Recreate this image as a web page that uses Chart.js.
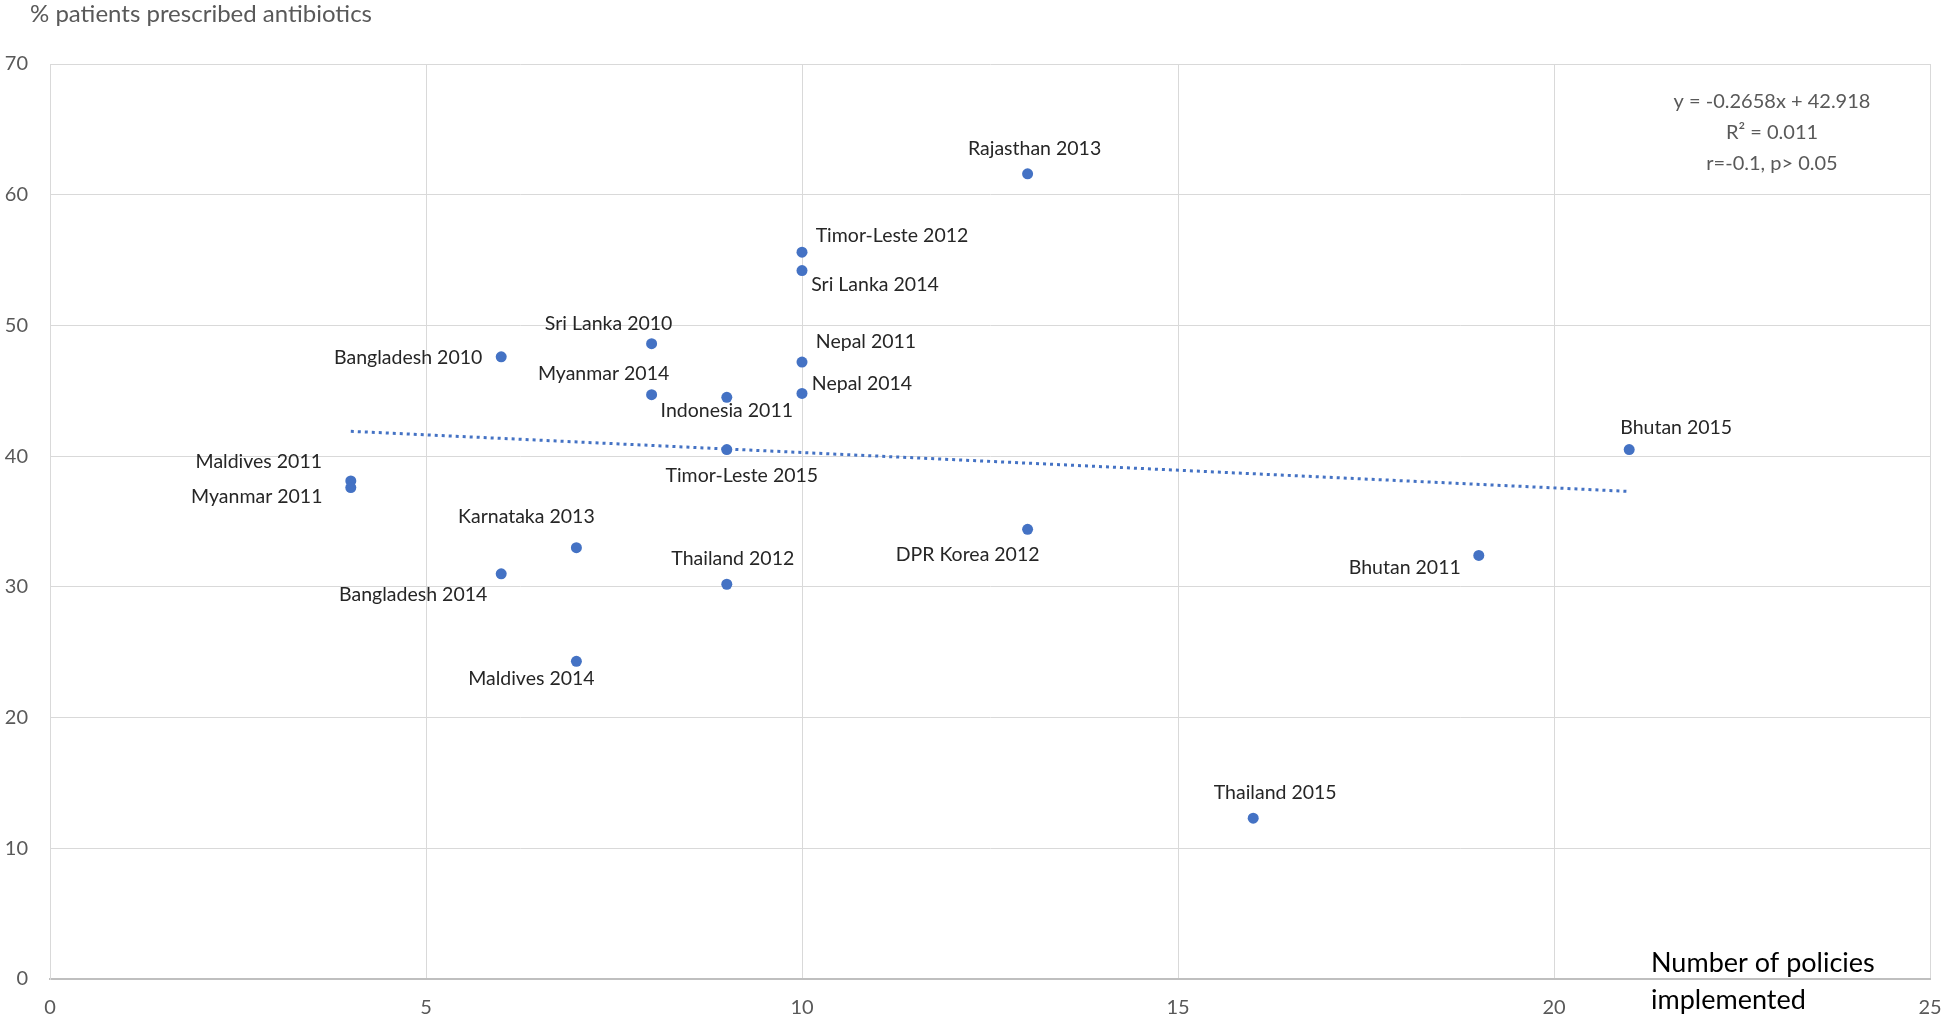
<!DOCTYPE html>
<html>
<head>
<meta charset="utf-8">
<script src="https://cdn.jsdelivr.net/npm/chart.js@4.4.1/dist/chart.umd.min.js"></script>
<style>
  html, body { margin: 0; padding: 0; background: #fff; }
  #wrap { width: 1946px; height: 1021px; }
</style>
</head>
<body>
<div id="wrap"><canvas id="scatterChart" width="1946" height="1021"></canvas></div>
<script>
// data
var sites = ["Rajasthan 2013","Timor-Leste 2012","Sri Lanka 2014","Sri Lanka 2010","Bangladesh 2010",
  "Nepal 2011","Myanmar 2014","Indonesia 2011","Nepal 2014","Timor-Leste 2015","Bhutan 2015",
  "Maldives 2011","Myanmar 2011","DPR Korea 2012","Karnataka 2013","Bhutan 2011","Bangladesh 2014",
  "Thailand 2012","Maldives 2014","Thailand 2015"];
var policies = [13,10,10,8,6,10,8,9,10,9,21,4,4,13,7,19,6,9,7,16];
var pctAntibiotics = [61.6,55.6,54.2,48.6,47.6,47.2,44.7,44.5,44.8,40.5,40.5,38.1,37.6,34.4,33.0,32.4,31.0,30.2,24.3,12.3];
var trendX = [4, 21];
var trendY = [41.9, 37.3];
var xTicks = [0,5,10,15,20,25];
var yTicks = [0,10,20,30,40,50,60,70];
var equationLines = ["y = -0.2658x + 42.918", "R\u00b2 = 0.011", "r=-0.1, p> 0.05"];

// where each label sits relative to its dot (px, label centre)
var labelOffset = {
  "Rajasthan 2013":[7,-25], "Timor-Leste 2012":[90,-17], "Sri Lanka 2014":[73,14],
  "Sri Lanka 2010":[-43,-20], "Bangladesh 2010":[-93,1], "Nepal 2011":[64,-20],
  "Myanmar 2014":[-48,-21], "Indonesia 2011":[0,13], "Nepal 2014":[60,-10],
  "Timor-Leste 2015":[15,26], "Bhutan 2015":[47,-22], "Maldives 2011":[-92,-19],
  "Myanmar 2011":[-94,9], "DPR Korea 2012":[-60,25], "Karnataka 2013":[-50,-31],
  "Bhutan 2011":[-74,12], "Bangladesh 2014":[-88,21], "Thailand 2012":[6,-26],
  "Maldives 2014":[-45,17], "Thailand 2015":[22,-26]
};

var FONT = "Lato, 'Open Sans', sans-serif";
var BLUE = "#4472C4";

var points = policies.map(function(x, i){ return {x: x, y: pctAntibiotics[i]}; });
var trend = trendX.map(function(x, i){ return {x: x, y: trendY[i]}; });

// text drawn on top: point labels, axis titles, equation
const textPlugin = {
  id: "textPlugin",
  afterDatasetsDraw(chart) {
    const ctx = chart.ctx;
    const xs = chart.scales.x, ys = chart.scales.y;
    ctx.save();
    ctx.font = "19.5px " + FONT;
    ctx.fillStyle = "#262626";
    ctx.textAlign = "center";
    ctx.textBaseline = "middle";
    points.forEach(function(p, i){
      var off = labelOffset[sites[i]] || [0, -20];
      ctx.fillText(sites[i], xs.getPixelForValue(p.x) + off[0], ys.getPixelForValue(p.y) + off[1]);
    });

    // regression text
    ctx.font = "20px " + FONT;
    ctx.fillStyle = "#595959";
    equationLines.forEach(function(t, i){
      ctx.fillText(t, 1772, 102 + i * 31);
    });

    // y axis title
    ctx.textAlign = "left";
    ctx.font = "24px " + FONT;
    ctx.fillText("% patients prescribed antibiotics", 30, 14);

    // x axis title
    ctx.font = "27px " + FONT;
    ctx.fillStyle = "#000000";
    ctx.fillText("Number of policies", 1651, 963);
    ctx.fillText("implemented", 1651, 1000);
    ctx.restore();
  }
};

const CHART = document.getElementById("scatterChart");
let scatterChart = new Chart(CHART, {
  type: "scatter",
  data: {
    datasets: [
      {
        label: "sites",
        data: points,
        pointRadius: 5.5,
        pointHoverRadius: 5.5,
        backgroundColor: BLUE,
        borderWidth: 0,
        order: 1
      },
      {
        label: "trend",
        type: "line",
        data: trend,
        borderColor: BLUE,
        borderWidth: 3,
        borderDash: [3, 4],
        pointRadius: 0,
        fill: false,
        order: 2
      }
    ]
  },
  options: {
    responsive: false,
    animation: false,
    layout: { padding: { top: 64, right: 16, left: 0, bottom: 0 } },
    plugins: { legend: { display: false }, tooltip: { enabled: false } },
    scales: {
      x: {
        type: "linear",
        min: 0, max: 25,
        afterBuildTicks: function(s){ s.ticks = xTicks.map(function(v){ return {value: v}; }); },
        afterFit: function(s){ s.height = 42; s.paddingLeft = 0; s.paddingRight = 0; },
        grid: { color: "#d9d9d9", lineWidth: 1, drawTicks: false },
        border: { color: "#bfbfbf", width: 2 },
        ticks: { color: "#595959", font: { family: FONT, size: 20 }, padding: 17 }
      },
      y: {
        type: "linear",
        min: 0, max: 70,
        afterBuildTicks: function(s){ s.ticks = yTicks.map(function(v){ return {value: v}; }); },
        afterFit: function(s){ s.width = 50; },
        grid: { color: "#d9d9d9", lineWidth: 1, drawTicks: false },
        border: { color: "#d9d9d9", width: 1 },
        ticks: { color: "#595959", font: { family: FONT, size: 20 }, padding: 22 }
      }
    }
  },
  plugins: [textPlugin]
});
</script>
</body>
</html>
